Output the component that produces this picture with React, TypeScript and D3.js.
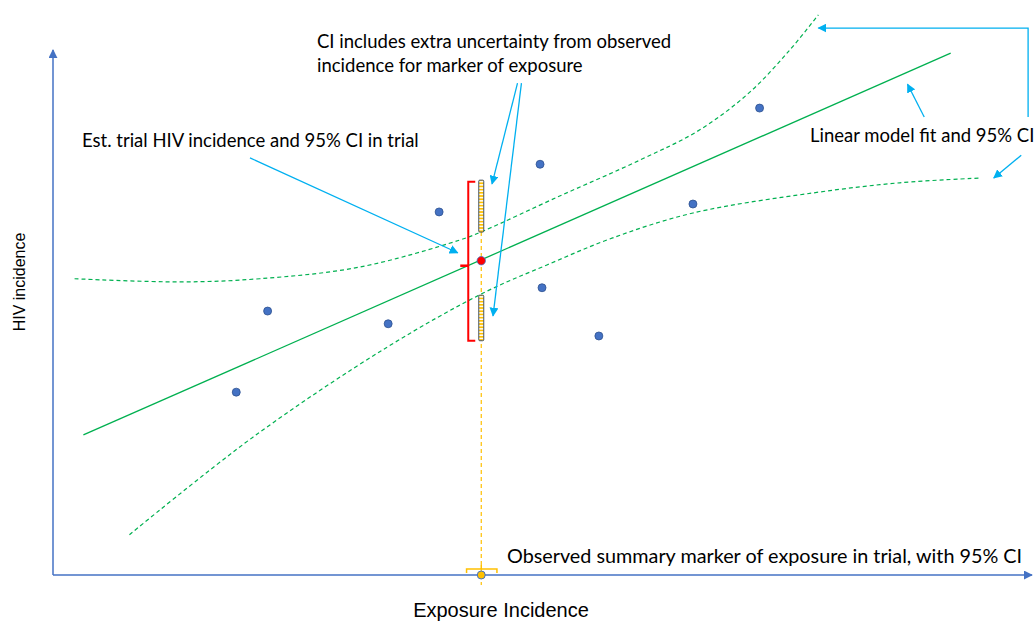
import React from "react";
import * as d3 from "d3";

// ---- data (abstract units) ----
const studyX = [18.7, 21.9, 34.2, 39.4, 49.7, 49.9, 55.7, 65.3, 72.1];
const studyY = [34.5, 49.8, 47.4, 68.5, 77.5, 54.2, 45.1, 70.0, 88.1];

const fitRange = [3.1, 91.6];
const fitIntercept = 23.9;
const fitSlope = 0.814;

const upperX = [2.2, 13.0, 21.1, 31.3, 41.5, 43.9, 51.7, 59.9, 66.0, 71.1, 75.2, 78.1];
const upperY = [55.9, 55.3, 55.9, 58.1, 63.2, 64.9, 71.5, 78.3, 84.0, 91.1, 99.1, 105.7];

const lowerX = [7.8, 20.4, 34.1, 43.9, 50.4, 57.1, 65.3, 77.6, 86.4, 94.6];
const lowerY = [7.6, 26.0, 43.0, 53.2, 58.5, 63.6, 68.3, 72.1, 74.0, 74.9];

const trialX = 43.7;
const trialEst = 59.3;
const trialCI = [44.2, 74.2];
const extraUpper = [64.7, 74.5];
const extraLower = [44.2, 52.8];
const exposureCI = [42.2, 45.3];

const W = 1035;
const H = 621;

export default function App() {
  const x = d3.scaleLinear().domain([0, 100]).range([53, 1033]);
  const y = d3.scaleLinear().domain([0, 100]).range([575, 45]);

  const upperPts: [number, number][] = upperX.map((v, i) => [v, upperY[i]]);
  const lowerPts: [number, number][] = lowerX.map((v, i) => [v, lowerY[i]]);
  const curve = d3
    .line<[number, number]>()
    .x((d) => x(d[0]))
    .y((d) => y(d[1]))
    .curve(d3.curveCatmullRom.alpha(0.5));

  const fitY = (v: number) => fitIntercept + fitSlope * v;

  const blue = "#00B0F0";
  const green = "#00B050";
  const axisBlue = "#4472C4";
  const gold = "#FFC000";
  const annFont = "Lato, 'Open Sans', sans-serif";

  const tx = x(trialX);
  const barW = 5;

  // annotation arrows (data units)
  const arrows: [number, number][][] = [
    [[20.1, 78.7], [41.3, 60.8]],
    [[47.4, 92.8], [44.8, 73.8]],
    [[47.8, 92.8], [44.9, 48.9]],
    [[99.5, 86.4], [99.5, 103.2], [78.1, 103.2]],
    [[88.9, 86.4], [87.2, 92.6]],
    [[98.8, 79.2], [96.0, 74.9]],
  ];
  const straight = d3
    .line<[number, number]>()
    .x((d) => x(d[0]))
    .y((d) => y(d[1]));

  const bt = y(trialCI[1]);
  const bb = y(trialCI[0]);
  const bx = tx - 13;

  const ex0 = x(exposureCI[0]);
  const ex1 = x(exposureCI[1]);
  const ey = 569;

  return (
    <svg
      width={W}
      height={H}
      style={{ position: "absolute", left: 0, top: 0, background: "#fff" }}
    >
      <defs>
        <marker id="ah" viewBox="0 0 10 10" refX="9" refY="5" markerWidth="9" markerHeight="9" markerUnits="userSpaceOnUse" orient="auto">
          <path d="M0,0 L10,5 L0,10 Z" fill={blue} />
        </marker>
        <marker id="axh" viewBox="0 0 10 10" refX="9" refY="5" markerWidth="9" markerHeight="9" markerUnits="userSpaceOnUse" orient="auto">
          <path d="M0,0 L10,5 L0,10 Z" fill={axisBlue} />
        </marker>
        <pattern id="stripes" patternUnits="userSpaceOnUse" width="6" height="3.2">
          <rect width="6" height="3.2" fill="#fff" />
          <rect width="6" height="1.7" fill={gold} />
        </pattern>
      </defs>

      {/* axes */}
      <line x1={x(0)} y1={y(0)} x2={x(0)} y2={50} stroke={axisBlue} strokeWidth={1.5} markerEnd="url(#axh)" />
      <line x1={x(0)} y1={y(0)} x2={1032} y2={y(0)} stroke={axisBlue} strokeWidth={1.5} markerEnd="url(#axh)" />

      {/* CI curves */}
      <path d={curve(upperPts) || ""} fill="none" stroke={green} strokeWidth={1.2} strokeDasharray="4 3" />
      <path d={curve(lowerPts) || ""} fill="none" stroke={green} strokeWidth={1.2} strokeDasharray="4 3" />
      {/* fit */}
      <line x1={x(fitRange[0])} y1={y(fitY(fitRange[0]))} x2={x(fitRange[1])} y2={y(fitY(fitRange[1]))} stroke={green} strokeWidth={1.3} />

      {/* vertical yellow dashed */}
      <line x1={tx} x2={tx} y1={y(extraUpper[0])} y2={585} stroke={gold} strokeWidth={1.2} strokeDasharray="4 3" />

      {/* red bracket */}
      <path
        d={`M${bx + 7},${bt} H${bx} V${bb} H${bx + 7}`}
        fill="none"
        stroke="#FF0000"
        strokeWidth={2}
      />
      <line x1={bx - 8} x2={bx} y1={y(trialEst) + 5} y2={y(trialEst) + 5} stroke="#FF0000" strokeWidth={2.5} />

      {/* hatched bars */}
      {[extraUpper, extraLower].map((r, i) => (
        <rect
          key={i}
          x={tx - barW / 2}
          y={y(r[1])}
          width={barW}
          height={y(r[0]) - y(r[1])}
          fill="url(#stripes)"
          stroke="#44546A"
          strokeWidth={1}
          rx={1}
        />
      ))}

      {/* study points */}
      {studyX.map((v, i) => (
        <circle key={i} cx={x(v)} cy={y(studyY[i])} r={4} fill={axisBlue} stroke="#2F528F" strokeWidth={0.8} />
      ))}
      {/* trial estimate */}
      <circle cx={tx} cy={y(trialEst)} r={4.2} fill="#FF0000" stroke={axisBlue} strokeWidth={0.8} />

      {/* exposure brace + marker */}
      <path
        d={`M${ex0},${ey + 4} V${ey} H${ex1} V${ey + 4} M${tx},${ey} V${ey - 4}`}
        fill="none"
        stroke={gold}
        strokeWidth={1.5}
      />
      <circle cx={tx} cy={y(0)} r={4} fill={gold} stroke={axisBlue} strokeWidth={1} />

      {/* arrows */}
      {arrows.map((a, i) => (
        <path key={i} d={straight(a) || ""} fill="none" stroke={blue} strokeWidth={1.3} markerEnd="url(#ah)" />
      ))}

      {/* annotation text */}
      <g fontFamily={annFont} fontSize={18.5} fill="#000">
        <text x={317} y={48}>CI includes extra uncertainty from observed</text>
        <text x={317} y={72}>incidence for marker of exposure</text>
        <text x={82} y={147}>Est. trial HIV incidence and 95% CI in trial</text>
        <text x={810} y={142}>Linear model fit and 95% CI</text>
        <text x={507} y={563} fontSize={19.8}>Observed summary marker of exposure in trial, with 95% CI</text>
      </g>

      {/* axis titles */}
      <text
        transform={`translate(25,282) rotate(-90)`}
        textAnchor="middle"
        fontFamily="'Liberation Sans', Arial, sans-serif"
        fontSize={16}
      >
        HIV incidence
      </text>
      <text x={501} y={617} textAnchor="middle" fontFamily="'Liberation Sans', Arial, sans-serif" fontSize={20}>
        Exposure Incidence
      </text>
    </svg>
  );
}
